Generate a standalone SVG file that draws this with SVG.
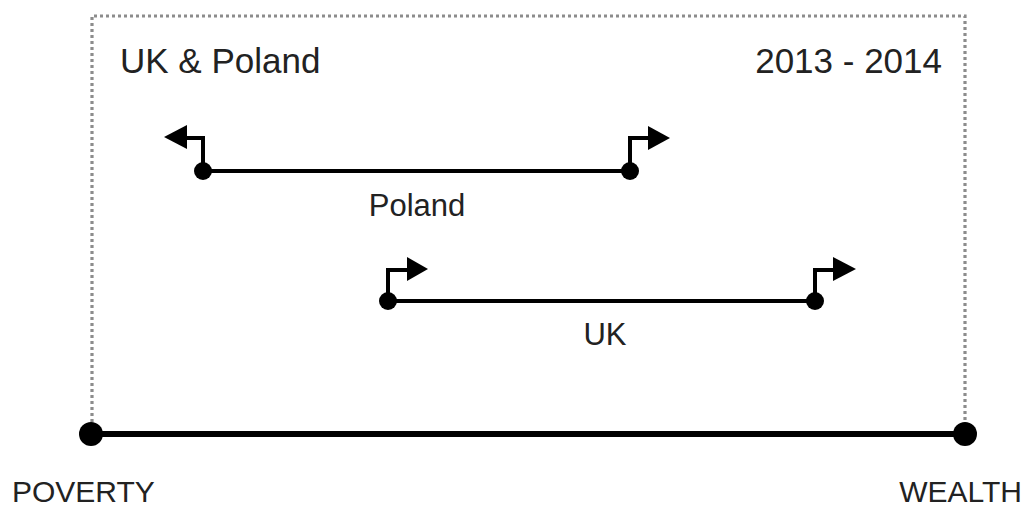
<svg xmlns="http://www.w3.org/2000/svg" width="1028" height="506" viewBox="0 0 1028 506">
<style>
text{font-family:"Liberation Sans",Arial,sans-serif;fill:#222;}
.big{font-size:35px;}
.lbl{font-size:31px;}
.axis{font-size:30px;}
.frame{fill:none;stroke:#8c8c8c;stroke-width:3.2;stroke-dasharray:3 3;}
.bar{stroke:#000;stroke-width:4;fill:none;}
.head{fill:#000;}
</style>
<rect width="1028" height="506" fill="#fff"/>
<g id="frame"><path class="frame" d="M92,434 V16 H965 V434"/></g>
<g id="title"><text class="big" x="120" y="73">UK &amp; Poland</text></g>
<g id="period"><text class="big" x="942" y="73" text-anchor="end">2013 - 2014</text></g>
<g id="connectors">
<line x1="90" y1="434" x2="966" y2="434" stroke="#000" stroke-width="6"/>
<line class="bar" x1="203" y1="171" x2="630" y2="171"/>
<path class="bar" d="M203,171 V138 H186"/>
<polygon class="head" points="164,137 187,125 187,149"/>
<path class="bar" d="M630,171 V138 H649"/>
<polygon class="head" points="670,138 648,126 648,150"/>
<line class="bar" x1="388" y1="301" x2="816" y2="301"/>
<path class="bar" d="M388,301 V270 H408"/>
<polygon class="head" points="428,269 407,257 407,281"/>
<path class="bar" d="M815,301 V270 H834"/>
<polygon class="head" points="856,269 833,257 833,281"/>
</g>
<g id="poverty"><circle cx="91" cy="434" r="12"/><text class="axis" x="12" y="502">POVERTY</text></g>
<g id="wealth"><circle cx="965" cy="434" r="12"/><text class="axis" x="1022" y="502" text-anchor="end">WEALTH</text></g>
<g id="poland"><circle cx="203" cy="171" r="9"/><circle cx="630" cy="171" r="9"/><text class="lbl" x="417" y="216" text-anchor="middle">Poland</text></g>
<g id="uk"><circle cx="388" cy="301" r="9"/><circle cx="815" cy="301" r="9"/><text class="lbl" x="605" y="345" text-anchor="middle">UK</text></g>
</svg>
